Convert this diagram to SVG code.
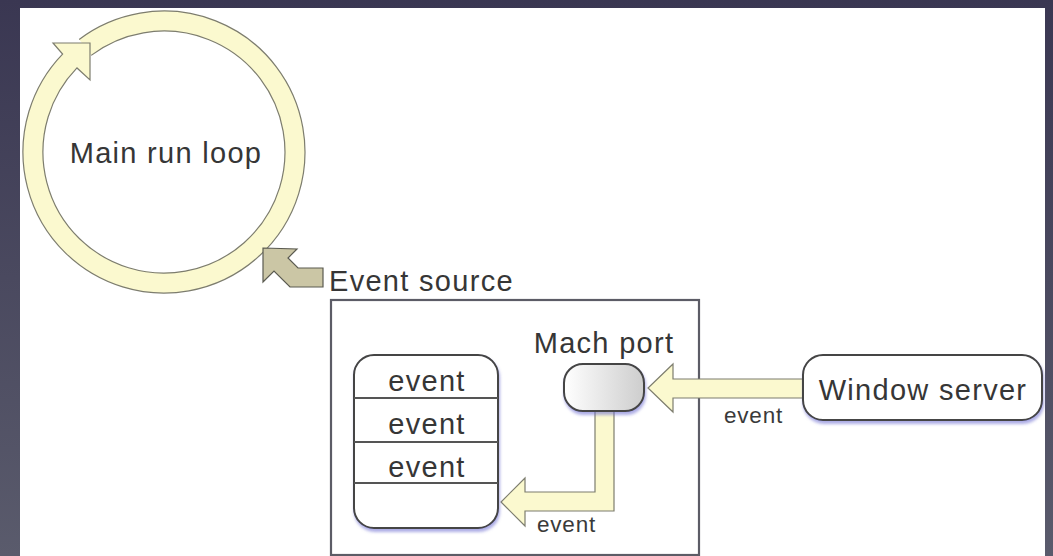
<svg xmlns="http://www.w3.org/2000/svg" width="1053" height="556" viewBox="0 0 1053 556">
  <defs>
    <linearGradient id="frameGrad" x1="0" y1="0" x2="0" y2="1">
      <stop offset="0" stop-color="#3a3752"/>
      <stop offset="1" stop-color="#5a5b6c"/>
    </linearGradient>
    <linearGradient id="portGrad" x1="0" y1="0" x2="1" y2="0">
      <stop offset="0" stop-color="#ffffff"/>
      <stop offset="1" stop-color="#cdcdcd"/>
    </linearGradient>
    <filter id="shadow" x="-20%" y="-20%" width="140%" height="150%">
      <feDropShadow dx="1" dy="3" stdDeviation="1.5" flood-color="#6a6ad0" flood-opacity="0.55"/>
    </filter>
    <style>
      .label { font-family: "Liberation Sans", Arial, sans-serif; font-size: 29px; fill: #363636; letter-spacing: 1.3px; }
      .small { font-family: "Liberation Sans", Arial, sans-serif; font-size: 22.5px; fill: #3a3a3a; letter-spacing: 0.8px; }
      .flow { fill: #fbf9cf; stroke: #7d7d6e; stroke-width: 1.2; stroke-linejoin: miter; }
      .box { fill: #ffffff; stroke: #444; stroke-width: 2; }
      .divider { stroke: #555; stroke-width: 2; }
    </style>
  </defs>

  <!-- frame and canvas -->
  <rect x="0" y="0" width="1053" height="556" fill="url(#frameGrad)"/>
  <rect x="20" y="8" width="1025" height="548" fill="#ffffff"/>

  <!-- run loop -->
  <g id="main-run-loop">
    <path class="flow" d="M79.15,39.4 A141,141 0 1,1 62.58,54.05 L53,43 L90,43 L90,80 L76.96,67.94 A121,121 0 1,0 91.18,55.37" fill="#fcfad2"/>
    <text class="label" x="166" y="163" text-anchor="middle">Main run loop</text>
  </g>

  <!-- event source -->
  <g id="event-source">
    <polygon points="263,248 297,249 288,258 298,268 323,268 323,287 290,287 274,271 263,282" fill="#cbc6a5" stroke="#5a5a50" stroke-width="1.2"/>
    <text class="label" x="329" y="291">Event source</text>
    <rect x="331" y="300" width="368" height="255" fill="none" stroke="#5c5c66" stroke-width="2.2"/>
  </g>

  <!-- connectors -->
  <g id="connectors">
    <polygon class="flow" points="805,379 673,379 673,364 648,388 673,412 673,398 805,398"/>
    <polygon class="flow" points="614,405 614,511 525,511 525,526 501,502 525,478 525,492 595,492 595,405"/>
    <text class="small" x="724" y="423">event</text>
    <text class="small" x="537" y="532">event</text>
  </g>

  <!-- event queue -->
  <g id="event-queue">
    <rect class="box" x="354" y="355" width="144" height="173" rx="20" ry="20" filter="url(#shadow)"/>
    <line class="divider" x1="354" y1="398" x2="498" y2="398"/>
    <line class="divider" x1="354" y1="442" x2="498" y2="442"/>
    <line class="divider" x1="354" y1="483" x2="498" y2="483"/>
    <text class="label" x="427" y="391" text-anchor="middle">event</text>
    <text class="label" x="427" y="434" text-anchor="middle">event</text>
    <text class="label" x="427" y="477" text-anchor="middle">event</text>
  </g>

  <!-- mach port -->
  <g id="mach-port">
    <rect x="564" y="364" width="80" height="47" rx="19" ry="19" fill="url(#portGrad)" stroke="#444" stroke-width="2" filter="url(#shadow)"/>
    <text class="label" x="604" y="353" text-anchor="middle">Mach port</text>
  </g>

  <!-- window server -->
  <g id="window-server">
    <rect class="box" x="803" y="355" width="239" height="65" rx="20" ry="20" filter="url(#shadow)"/>
    <text class="label" x="923" y="400" text-anchor="middle">Window server</text>
  </g>
</svg>
